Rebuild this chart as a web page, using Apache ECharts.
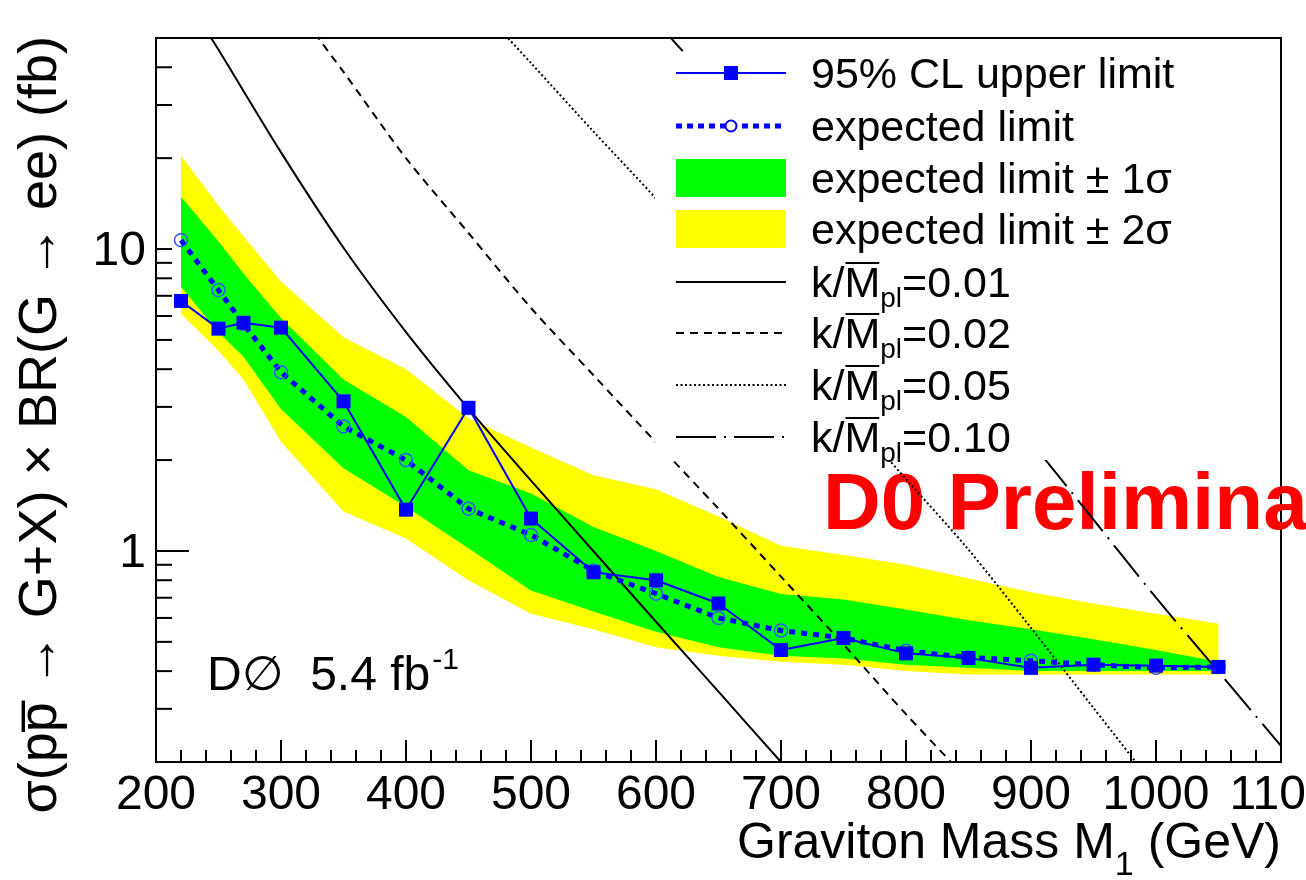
<!DOCTYPE html>
<html>
<head>
<meta charset="utf-8">
<script src="https://cdn.jsdelivr.net/npm/echarts@6/dist/echarts.min.js"></script>
<style>
html,body{margin:0;padding:0;background:#fff;}
#chart{width:1306px;height:880px;}
</style>
</head>
<body>
<div id="chart"></div>
<script>
// Graviton mass points (GeV)
const massPoints = [220,250,270,300,350,400,450,500,550,600,650,700,750,800,850,900,950,1000,1050];
// Observed 95% CL upper limit on sigma x BR (fb)
const upperLimit = [6.73,5.45,5.70,5.49,3.13,1.37,2.98,1.28,0.85,0.80,0.67,0.47,0.515,0.458,0.442,0.41,0.42,0.417,0.413];
// Expected limit and its +-1 sigma / +-2 sigma bands (fb)
const expectedLimit = [10.7,7.31,5.65,3.91,2.585,2.0,1.38,1.13,0.86,0.722,0.60,0.545,0.515,0.467,0.444,0.433,0.42,0.41,0.413];
const sigma1Low  = [7.5,5.3,4.4,2.95,1.88,1.4,1.02,0.74,0.63,0.54,0.48,0.45,0.44,0.42,0.41,0.40,0.40,0.40,0.40];
const sigma1High = [14.9,10.6,8.3,5.9,3.7,2.78,1.85,1.55,1.2,1.0,0.82,0.72,0.69,0.64,0.59,0.55,0.51,0.47,0.43];
const sigma2Low  = [6.1,4.6,3.7,2.3,1.35,1.1,0.8,0.62,0.55,0.48,0.45,0.43,0.42,0.40,0.39,0.39,0.39,0.39,0.39];
const sigma2High = [20.4,13.9,11.0,7.8,5.1,4.0,2.75,2.2,1.78,1.6,1.3,1.04,0.97,0.9,0.81,0.73,0.67,0.62,0.574];

// RS graviton theory cross sections for several couplings k/Mpl
const theory001Mass = [230,250,300,350,400,450,500,550,600,650,700,720];
const theory001 = [61.7,45.7,20.9,10.1,5.31,2.96,1.71,0.998,0.583,0.342,0.2,0.162];
const theory002Mass = [300,350,400,450,500,550,600,650,700,750,800,850];
const theory002 = [73,38.6,20,11.3,6.38,3.82,2.29,1.38,0.822,0.49,0.288,0.174];
const theory005Mass = [450,500,550,600,650,700,750,800,850,900,950,1000];
const theory005 = [69.3,41.3,24.5,14.7,8.6,5.05,2.96,1.73,1.01,0.556,0.302,0.164];
const theory010Mass = [600,650,700,750,800,850,900,950,1000,1050,1100];
const theory010 = [56.7,33.4,19.7,11.6,6.8,3.98,2.29,1.27,0.70,0.398,0.226];

// Log-axis tick marks and labels
const yTickValues = [0.2,0.3,0.4,0.5,0.6,0.7,0.8,0.9,1,2,3,4,5,6,7,8,9,10,20,30,40,50];
const yLongTicks = [1];
const yTickLabels = [1,10];

const FONT = '"Liberation Sans", Arial, Helvetica, sans-serif';
const FONT_SYM = '"Liberation Sans", "DejaVu Sans", sans-serif';
const BLUE = '#0000ff';

const measureCtx = document.createElement('canvas').getContext('2d');
function textWidth(str, font) { measureCtx.font = font; return measureCtx.measureText(str).width; }

function pairs(xs, ys) { return xs.map((x, i) => [x, ys[i]]); }

// text placed by its alphabetic baseline
function txt(str, x, baseline, size, extra) {
  const o = Object.assign({ weight: 'normal', color: '#000', align: 'left', family: FONT, z: 20 }, extra || {});
  return {
    type: 'text', x: x, y: baseline - 0.31 * size, z: o.z, silent: true,
    style: { text: str, font: o.weight + ' ' + size + 'px ' + o.family, fill: o.color,
             textAlign: o.align, textVerticalAlign: 'middle' }
  };
}

function bandSeries(name, low, high, color) {
  return {
    type: 'custom', name: name, silent: true, z: 1,
    data: [[massPoints[0], low[0]]],
    renderItem: function (params, api) {
      const pts = [];
      for (let i = 0; i < massPoints.length; i++) pts.push(api.coord([massPoints[i], high[i]]));
      for (let i = massPoints.length - 1; i >= 0; i--) pts.push(api.coord([massPoints[i], low[i]]));
      return { type: 'polygon', shape: { points: pts }, style: { fill: color } };
    }
  };
}

function theorySeries(name, xs, ys, type, width) {
  return {
    type: 'line', name: name, data: pairs(xs, ys), showSymbol: false, symbol: 'none', smooth: 0.3,
    lineStyle: { color: '#000', width: width, type: type, cap: 'butt' }, z: 3, silent: true, clip: true
  };
}

// ---- legend ----
const legendX1 = 676, legendX2 = 786, legendTextX = 811;
const rowY = [73, 126, 178, 229, 282, 333, 385, 437];
const LFS = 43, SUBFS = 28;
const legendEls = [];
legendEls.push({ type: 'rect', z: 10, silent: true, shape: { x: 655, y: 53, width: 625, height: 407 }, style: { fill: '#fff' } });
// observed
legendEls.push({ type: 'line', z: 11, shape: { x1: legendX1, y1: rowY[0], x2: legendX2, y2: rowY[0] }, style: { stroke: BLUE, lineWidth: 2 } });
legendEls.push({ type: 'rect', z: 12, shape: { x: 731 - 7, y: rowY[0] - 7, width: 14, height: 14 }, style: { fill: BLUE } });
legendEls.push(txt('95% CL upper limit', legendTextX, rowY[0] + 16, LFS));
// expected
legendEls.push({ type: 'line', z: 11, shape: { x1: legendX1, y1: rowY[1], x2: legendX2, y2: rowY[1] }, style: { stroke: BLUE, lineWidth: 5, lineDash: [6, 5] } });
legendEls.push({ type: 'circle', z: 12, shape: { cx: 731, cy: rowY[1], r: 5.5 }, style: { fill: '#fff', stroke: BLUE, lineWidth: 2 } });
legendEls.push(txt('expected limit', legendTextX, rowY[1] + 16, LFS));
// bands
legendEls.push({ type: 'rect', z: 11, shape: { x: legendX1, y: rowY[2] - 19, width: legendX2 - legendX1, height: 38 }, style: { fill: '#00ff00' } });
legendEls.push(txt('expected limit \u00b1 1\u03c3', legendTextX, rowY[2] + 16, LFS));
legendEls.push({ type: 'rect', z: 11, shape: { x: legendX1, y: rowY[3] - 19, width: legendX2 - legendX1, height: 38 }, style: { fill: '#ffff00' } });
legendEls.push(txt('expected limit \u00b1 2\u03c3', legendTextX, rowY[3] + 16, LFS));
// couplings
const couplingLabels = ['0.01', '0.02', '0.05', '0.10'];
const couplingDash = [null, [8, 6], [2, 2.5], [40, 8, 2, 8]];
const couplingWidth = [2, 2, 2, 2];
couplingLabels.forEach((lab, i) => {
  const y = rowY[4 + i];
  const st = { stroke: '#000', lineWidth: couplingWidth[i] };
  if (couplingDash[i]) st.lineDash = couplingDash[i];
  legendEls.push({ type: 'line', z: 11, shape: { x1: legendX1, y1: y, x2: legendX2, y2: y }, style: st });
  const base = y + 16;
  const mainFont = 'normal ' + LFS + 'px ' + FONT;
  const subFont = 'normal ' + SUBFS + 'px ' + FONT;
  const wK = textWidth('k/', mainFont), wM = textWidth('M', mainFont), wPl = textWidth('pl', subFont);
  legendEls.push(txt('k/M', legendTextX, base, LFS));
  legendEls.push({ type: 'line', z: 21, shape: { x1: legendTextX + wK + 1, y1: base - 35, x2: legendTextX + wK + wM - 1, y2: base - 35 }, style: { stroke: '#000', lineWidth: 2 } });
  legendEls.push(txt('pl', legendTextX + wK + wM, base + 10, SUBFS));
  legendEls.push(txt('=' + lab, legendTextX + wK + wM + wPl, base, LFS));
});

// ---- axis titles and annotations ----
const annot = [];
(function () {
  const f = 'normal 50px ' + FONT, fs = 'normal 34px ' + FONT;
  const a = 'Graviton Mass M', s = '1', b = ' (GeV)';
  const total = textWidth(a, f) + textWidth(s, fs) + textWidth(b, f);
  const x0 = 1281 - total;
  annot.push(txt(a, x0, 860, 50));
  annot.push(txt(s, x0 + textWidth(a, f), 876, 34));
  annot.push(txt(b, x0 + textWidth(a, f) + textWidth(s, fs), 860, 50));
})();
annot.push({
  type: 'text', x: 58 - 0.31 * 54, y: 36, rotation: Math.PI / 2, z: 20, silent: true,
  style: { text: '\u03c3(pp\u0305 \u2192 G+X) \u00d7 BR(G \u2192 ee) (fb)', font: 'normal 54px ' + FONT_SYM,
           fill: '#000', textAlign: 'right', textVerticalAlign: 'middle' }
});
(function () {
  const f = 'normal 48px ' + FONT_SYM;
  const main = 'D\u2205  5.4 fb';
  annot.push(txt(main, 207, 692, 48, { family: FONT_SYM }));
  annot.push(txt('-1', 207 + textWidth(main, f) + 2, 670, 30));
})();
annot.push(txt('D0 Preliminary', 823, 532, 80, { weight: 'bold', color: '#ff0000', z: 0 }));

const chart = echarts.init(document.getElementById('chart'), null, { renderer: 'canvas' });
chart.setOption({
  animation: false,
  backgroundColor: '#fff',
  grid: { left: 156, right: 25, top: 38, bottom: 118, containLabel: false, outerBoundsMode: 'none',
          show: true, borderColor: '#000', borderWidth: 2, backgroundColor: 'transparent' },
  xAxis: {
    type: 'value', min: 200, max: 1100, interval: 100,
    axisLine: { onZero: false, lineStyle: { color: '#000', width: 2 } },
    axisTick: { inside: true, length: 22, lineStyle: { color: '#000', width: 2 } },
    minorTick: { show: true, splitNumber: 5, length: 12, lineStyle: { color: '#000', width: 2 } },
    axisLabel: { fontSize: 48, fontFamily: FONT, color: '#000', margin: 10, hideOverlap: false,
                 showMinLabel: true, showMaxLabel: true, formatter: function (v) { return String(v); } },
    splitLine: { show: false }
  },
  yAxis: {
    type: 'log', logBase: 10, min: 0.2, max: 50,
    axisLine: { show: true, lineStyle: { color: '#000', width: 2 } },
    axisTick: { show: false }, axisLabel: { show: false },
    splitLine: { show: false }, minorTick: { show: false }
  },
  graphic: { elements: legendEls.concat(annot) },
  series: [
    bandSeries('expected limit \u00b1 2\u03c3', sigma2Low, sigma2High, '#ffff00'),
    bandSeries('expected limit \u00b1 1\u03c3', sigma1Low, sigma1High, '#00ff00'),
    theorySeries('k/Mpl=0.01', theory001Mass, theory001, 'solid', 2),
    theorySeries('k/Mpl=0.02', theory002Mass, theory002, [8, 6], 2),
    theorySeries('k/Mpl=0.05', theory005Mass, theory005, [2, 2.5], 2),
    theorySeries('k/Mpl=0.10', theory010Mass, theory010, [40, 8, 2, 8], 2),
    {
      type: 'line', name: 'expected limit', data: pairs(massPoints, expectedLimit), z: 4,
      symbol: 'circle', symbolSize: 13,
      lineStyle: { color: BLUE, width: 5, type: [6, 6], cap: 'butt' },
      itemStyle: { color: 'rgba(255,255,255,0)', borderColor: '#3355ff', borderWidth: 1.5 }
    },
    {
      type: 'line', name: '95% CL upper limit', data: pairs(massPoints, upperLimit), z: 5,
      symbol: 'rect', symbolSize: 14,
      lineStyle: { color: BLUE, width: 2 }, itemStyle: { color: BLUE }
    },
    {
      type: 'custom', name: 'y ticks', silent: true, z: 6, clip: false,
      data: yTickValues.map(v => [200, v]),
      renderItem: function (params, api) {
        const v = api.value(1);
        const p = api.coord([200, v]);
        const len = yLongTicks.indexOf(v) >= 0 ? 33 : 16;
        return { type: 'line', shape: { x1: p[0], y1: p[1], x2: p[0] + len, y2: p[1] }, style: { stroke: '#000', lineWidth: 2 } };
      }
    },
    {
      type: 'custom', name: 'y labels', silent: true, z: 6, clip: false,
      data: yTickLabels.map(v => [200, v]),
      renderItem: function (params, api) {
        const v = api.value(1);
        const p = api.coord([200, v]);
        return { type: 'text', x: p[0] - 10, y: p[1] + 3,
                 style: { text: String(v), font: 'normal 48px ' + FONT, fill: '#000', textAlign: 'right', textVerticalAlign: 'middle' } };
      }
    }
  ]
});
</script>
</body>
</html>
